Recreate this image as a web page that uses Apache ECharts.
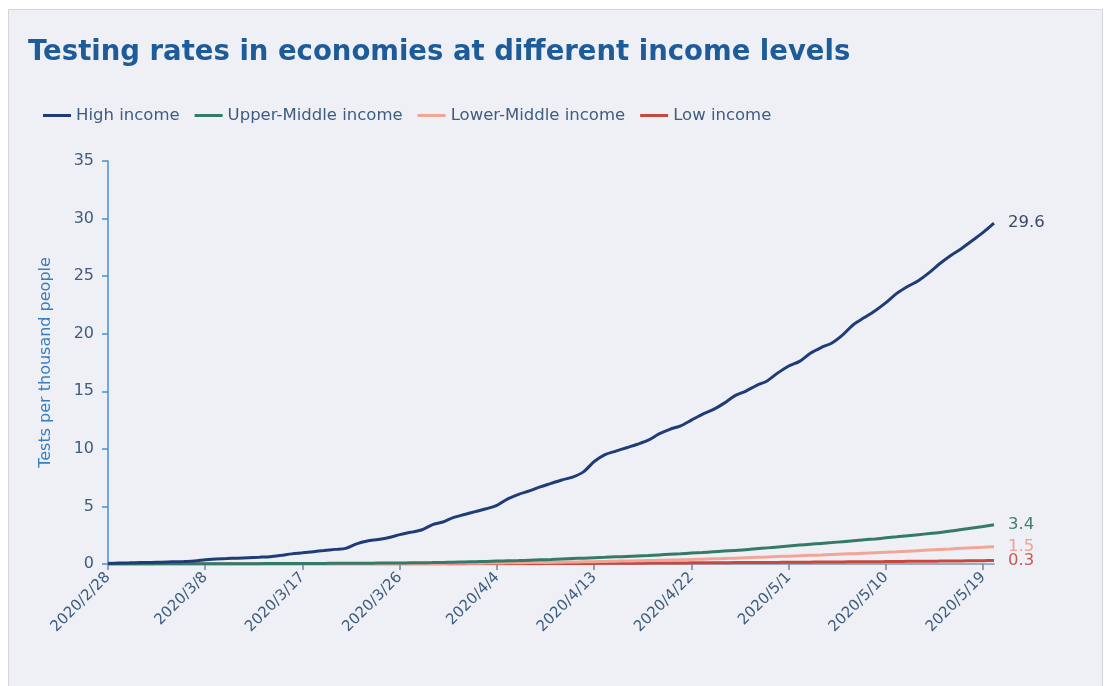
<!DOCTYPE html>
<html>
<head>
<meta charset="utf-8">
<script src="https://cdn.jsdelivr.net/npm/echarts@6/dist/echarts.min.js"></script>
<style>
  html, body { margin: 0; padding: 0; background: #ffffff; width: 1105px; height: 686px; overflow: hidden; }
  #panel { position: absolute; left: 8px; top: 9px; width: 1095px; height: 690px; background: #eff0f5; border: 1px solid #d5d6da; box-sizing: border-box; }
  #chart { position: absolute; left: 0; top: 0; width: 1105px; height: 686px; }
</style>
</head>
<body>
<div id="panel"></div>
<div id="chart"></div>
<script>
// Daily cumulative tests per thousand people, 2020/2/28 – 2020/5/20
const startDate = [2020, 2, 28];
const dayCount = 83;

const highIncome = [
  0.05, 0.08, 0.10, 0.12, 0.14, 0.16, 0.19, 0.22, 0.26, 0.36,
  0.44, 0.47, 0.51, 0.55, 0.59, 0.64, 0.75, 0.88, 0.97, 1.07,
  1.17, 1.27, 1.36, 1.75, 2.00, 2.13, 2.30, 2.55, 2.75, 2.95,
  3.40, 3.65, 4.05, 4.30, 4.55, 4.80, 5.10, 5.65, 6.05, 6.35,
  6.70, 7.00, 7.30, 7.55, 8.00, 8.90, 9.50, 9.80, 10.10, 10.40,
  10.75, 11.30, 11.70, 12.00, 12.50, 13.00, 13.40, 13.95, 14.60, 15.00,
  15.50, 15.90, 16.60, 17.20, 17.60, 18.30, 18.80, 19.20, 19.90, 20.80,
  21.40, 22.00, 22.70, 23.50, 24.10, 24.60, 25.30, 26.10, 26.80, 27.40,
  28.10, 28.80, 29.60
];

const upperMiddleIncome = [
  0.01, 0.01, 0.01, 0.01, 0.01, 0.02, 0.02, 0.02, 0.02, 0.02,
  0.02, 0.03, 0.03, 0.03, 0.03, 0.04, 0.04, 0.04, 0.05, 0.05,
  0.05, 0.06, 0.06, 0.07, 0.07, 0.08, 0.08, 0.09, 0.10, 0.11,
  0.12, 0.14, 0.16, 0.18, 0.20, 0.22, 0.25, 0.28, 0.30, 0.33,
  0.36, 0.39, 0.43, 0.47, 0.51, 0.55, 0.58, 0.62, 0.66, 0.70,
  0.74, 0.79, 0.84, 0.89, 0.95, 1.00, 1.06, 1.12, 1.18, 1.24,
  1.32, 1.40, 1.48, 1.56, 1.64, 1.72, 1.79, 1.86, 1.94, 2.02,
  2.10, 2.18, 2.27, 2.36, 2.46, 2.55, 2.64, 2.74, 2.86, 3.00,
  3.13, 3.26, 3.40
];

const lowerMiddleIncome = [
  0.00, 0.00, 0.00, 0.00, 0.00, 0.00, 0.00, 0.01, 0.01, 0.01,
  0.01, 0.01, 0.01, 0.01, 0.01, 0.01, 0.01, 0.01, 0.02, 0.02,
  0.02, 0.02, 0.02, 0.02, 0.03, 0.03, 0.03, 0.03, 0.04, 0.04,
  0.05, 0.05, 0.06, 0.06, 0.07, 0.08, 0.09, 0.10, 0.11, 0.12,
  0.13, 0.14, 0.16, 0.17, 0.19, 0.20, 0.22, 0.24, 0.26, 0.28,
  0.30, 0.32, 0.34, 0.36, 0.39, 0.42, 0.45, 0.48, 0.51, 0.55,
  0.58, 0.61, 0.65, 0.68, 0.71, 0.75, 0.78, 0.82, 0.86, 0.90,
  0.94, 0.98, 1.02, 1.06, 1.11, 1.16, 1.21, 1.26, 1.31, 1.37,
  1.42, 1.46, 1.50
];

const lowIncome = [
  0.00, 0.00, 0.00, 0.00, 0.00, 0.00, 0.00, 0.00, 0.00, 0.00,
  0.00, 0.00, 0.00, 0.00, 0.00, 0.00, 0.00, 0.00, 0.00, 0.00,
  0.00, 0.00, 0.00, 0.00, 0.00, 0.00, 0.01, 0.01, 0.01, 0.01,
  0.01, 0.01, 0.01, 0.01, 0.02, 0.02, 0.02, 0.02, 0.03, 0.03,
  0.03, 0.04, 0.04, 0.04, 0.05, 0.05, 0.06, 0.06, 0.07, 0.07,
  0.08, 0.08, 0.09, 0.09, 0.10, 0.10, 0.11, 0.11, 0.12, 0.12,
  0.13, 0.13, 0.14, 0.15, 0.15, 0.16, 0.17, 0.17, 0.18, 0.19,
  0.20, 0.20, 0.21, 0.22, 0.23, 0.24, 0.24, 0.25, 0.26, 0.27,
  0.28, 0.29, 0.30
];

const seriesNames = ['High income', 'Upper-Middle income', 'Lower-Middle income', 'Low income'];
const seriesColors = ['#1f3c78', '#347a66', '#f2a596', '#c8473f'];
const endLabelColors = ['#3b4a66', '#3d7f6c', '#f0a092', '#c45a58'];
const seriesData = [highIncome, upperMiddleIncome, lowerMiddleIncome, lowIncome];

// Category labels: one per day, formatted yyyy/m/d
const dates = [];
for (let i = 0; i < dayCount; i++) {
  const d = new Date(startDate[0], startDate[1] - 1, startDate[2] + i);
  dates.push(d.getFullYear() + '/' + (d.getMonth() + 1) + '/' + d.getDate());
}

const font = '"DejaVu Sans", Verdana, sans-serif';
const chart = echarts.init(document.getElementById('chart'), null, { renderer: 'canvas' });

chart.setOption({
  backgroundColor: 'transparent',
  animation: false,
  title: {
    text: 'Testing rates in economies at different income levels',
    left: 23,
    top: 34,
    textStyle: { fontFamily: font, fontSize: 27.5, fontWeight: 'bold', color: '#1d5b99' }
  },
  legend: {
    left: 38,
    top: 102,
    icon: 'rect',
    itemWidth: 28,
    itemHeight: 3,
    itemGap: 15,
    textStyle: { fontFamily: font, fontSize: 16.5, color: '#3e5c82' },
    data: seriesNames
  },
  grid: { left: 108, right: 111, top: 161, bottom: 122 },
  xAxis: {
    type: 'category',
    data: dates,
    boundaryGap: false,
    axisLine: { lineStyle: { color: '#7d96b3', width: 1.5 } },
    axisTick: { interval: 8, length: 6, lineStyle: { color: '#6f86a6', width: 1.5 } },
    axisLabel: { interval: 8, rotate: 45, margin: 11, fontFamily: font, fontSize: 15, color: '#3b5b80' },
    splitLine: { show: false }
  },
  yAxis: {
    type: 'value',
    min: 0,
    max: 35,
    interval: 5,
    name: 'Tests per thousand people',
    nameLocation: 'middle',
    nameGap: 54,
    nameTextStyle: { fontFamily: font, fontSize: 16, color: '#3a7ebf' },
    axisLine: { show: true, lineStyle: { color: '#4a8fd0', width: 1.5 } },
    axisTick: { show: true, length: 6, lineStyle: { color: '#4a8fd0', width: 1.5 } },
    axisLabel: { margin: 14, fontFamily: font, fontSize: 16, color: '#3e5c80' },
    splitLine: { show: false }
  },
  series: seriesNames.map((name, i) => ({
    name: name,
    type: 'line',
    data: seriesData[i],
    showSymbol: false,
    smooth: 0.3,
    z: 10 - i,
    lineStyle: { color: seriesColors[i], width: 3 },
    itemStyle: { color: seriesColors[i] },
    endLabel: {
      show: true,
      distance: 14,
      fontFamily: font,
      fontSize: 16.5,
      color: endLabelColors[i],
      formatter: p => p.value.toFixed(1)
    }
  }))
});
</script>
</body>
</html>
